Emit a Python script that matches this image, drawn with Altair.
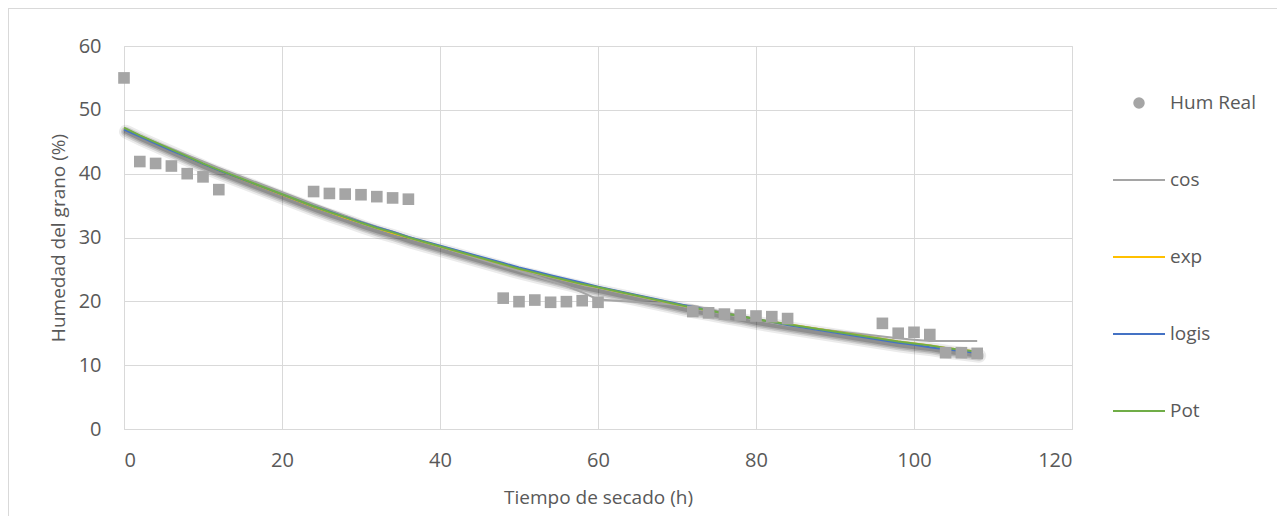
import altair as alt
import pandas as pd

# ---- data ----
tiempo = [0, 2, 4, 6, 8, 10, 12,
          24, 26, 28, 30, 32, 34, 36,
          48, 50, 52, 54, 56, 58, 60,
          72, 74, 76, 78, 80, 82, 84,
          96, 98, 100, 102, 104, 106, 108]

hum_real = [55.0, 41.9, 41.6, 41.2, 40.0, 39.5, 37.5,
            37.2, 36.9, 36.8, 36.7, 36.4, 36.2, 36.0,
            20.5, 19.95, 20.2, 19.85, 19.95, 20.1, 19.85,
            18.4, 18.2, 18.0, 17.85, 17.7, 17.6, 17.3,
            16.55, 15.0, 15.15, 14.8, 11.95, 11.95, 11.85]

fit_cos = [47.0, 45.9, 44.9, 43.9, 42.9, 41.9, 40.9,
           35.2, 34.3, 33.4, 32.5, 31.7, 30.9, 30.1,
           25.5, 24.8, 24.0, 23.2, 22.4, 21.4, 20.3,
           19.3, 18.8, 18.3, 17.8, 17.2, 16.7, 16.2,
           14.5, 14.2, 14.0, 13.8, 13.8, 13.8, 13.8]

fit_exp = [47.1, 45.9, 44.8, 43.7, 42.6, 41.5, 40.5,
           34.8, 34.0, 33.1, 32.3, 31.5, 30.7, 30.0,
           25.8, 25.1, 24.5, 23.9, 23.3, 22.7, 22.2,
           19.0, 18.6, 18.1, 17.7, 17.2, 16.8, 16.4,
           14.1, 13.7, 13.4, 13.1, 12.7, 12.4, 12.1]

fit_logis = [46.9, 45.8, 44.7, 43.6, 42.6, 41.5, 40.5,
             34.9, 34.1, 33.2, 32.4, 31.6, 30.9, 30.1,
             26.0, 25.3, 24.7, 24.1, 23.5, 22.9, 22.3,
             19.1, 18.6, 18.1, 17.7, 17.2, 16.8, 16.3,
             13.9, 13.5, 13.2, 12.8, 12.5, 12.2, 11.9]

fit_pot = [47.2, 46.0, 44.9, 43.8, 42.7, 41.6, 40.6,
           34.9, 34.0, 33.2, 32.3, 31.5, 30.8, 30.0,
           25.8, 25.1, 24.5, 23.9, 23.3, 22.7, 22.2,
           19.0, 18.6, 18.1, 17.7, 17.2, 16.8, 16.4,
           14.1, 13.7, 13.4, 13.1, 12.7, 12.4, 12.1]

series_names = ["Hum Real", "cos", "exp", "logis", "Pot"]
series_colors = ["#a5a5a5", "#a5a5a5", "#ffc000", "#4472c4", "#70ad47"]

x_ticks = [0, 20, 40, 60, 80, 100, 120]
y_ticks = [0, 10, 20, 30, 40, 50, 60]

# ---- tables ----
pts = pd.DataFrame({"t": tiempo, "h": hum_real, "serie": "Hum Real"})
fits = pd.concat([
    pd.DataFrame({"t": tiempo, "h": vals, "serie": name, "ord": i})
    for i, (name, vals) in enumerate([("cos", fit_cos), ("exp", fit_exp),
                                      ("logis", fit_logis), ("Pot", fit_pot)])
], ignore_index=True)
shadow = pd.DataFrame({"t": tiempo, "h": fit_pot})

FONT = "Open Sans"
TXT = "#595959"
GRID = "#d9d9d9"

xscale = alt.Scale(domain=[0, 120], nice=False)
yscale = alt.Scale(domain=[0, 60], nice=False)

x_axis = alt.Axis(values=x_ticks, title="Tiempo de secado (h)", grid=True,
                  gridColor=GRID, domainColor=GRID, ticks=False,
                  labelFont=FONT, labelFontSize=20, labelColor=TXT,
                  labelPadding=21, titleFont=FONT, titleFontSize=19,
                  titleFontWeight="normal", titleColor=TXT,
                  titleX=474, titleY=68, titleBaseline="middle")
y_axis = alt.Axis(values=y_ticks, title="Humedad del grano (%)", grid=True,
                  gridColor=GRID, domain=False, ticks=False,
                  labelFont=FONT, labelFontSize=20, labelColor=TXT,
                  labelPadding=23, titleFont=FONT, titleFontSize=19,
                  titleFontWeight="normal", titleColor=TXT,
                  titleX=-66, titleY=191.5, titleBaseline="middle",
                  titleAlign="center", titleAngle=270)

IS_PT = "datum.value === 'Hum Real'"
color = alt.Color(
    "serie:N",
    scale=alt.Scale(domain=series_names, range=series_colors),
    legend=alt.Legend(
        title=None, orient="none", legendX=988, legendY=30,
        symbolType={"expr": f"{IS_PT} ? 'circle' : 'stroke'"},
        symbolSize={"expr": f"{IS_PT} ? 90 : 2704"},
        symbolFillColor={"expr": f"{IS_PT} ? '#a5a5a5' : 'transparent'"},
        symbolStrokeColor={"expr": f"{IS_PT} ? 'transparent' : scale('color', datum.value)"},
        symbolStrokeWidth=2, symbolOpacity=1,
        labelFont=FONT, labelFontSize=19, labelColor=TXT,
        labelOffset=4, rowPadding=40, padding=0,
    ),
)

base_x = alt.X("t:Q", scale=xscale, axis=x_axis)
base_y = alt.Y("h:Q", scale=yscale, axis=y_axis)

shadow_layers = [
    alt.Chart(shadow).mark_line(color="#000000", opacity=op, strokeWidth=sw,
                                xOffset=2, yOffset=4, strokeCap="round")
    .encode(x=alt.X("t:Q", scale=xscale), y=alt.Y("h:Q", scale=yscale))
    for sw, op in [(14, 0.08), (10, 0.12), (7, 0.15), (4, 0.18)]
]

lines = alt.Chart(fits).mark_line(strokeWidth=2).encode(
    x=base_x, y=base_y, color=color, order="ord:Q", detail="serie:N"
)

points = alt.Chart(pts).mark_point(shape="square", filled=True, size=135,
                                   opacity=1).encode(
    x=alt.X("t:Q", scale=xscale), y=alt.Y("h:Q", scale=yscale), color=color
)

frame = alt.Chart(alt.Data(values=[{}])).mark_rule(color=GRID, strokeWidth=1).encode(
    x=alt.value(-115.5), y=alt.value(-38), y2=alt.value(480)
)
frame_top = alt.Chart(alt.Data(values=[{}])).mark_rule(color=GRID, strokeWidth=1).encode(
    x=alt.value(-116), x2=alt.value(1160), y=alt.value(-37.5)
)

chart = alt.layer(*shadow_layers, lines, points, frame, frame_top).properties(
    width=948, height=383,
    autosize=alt.AutoSizeParams(type="none"),
    padding={"left": 116, "top": 38, "right": 205, "bottom": 87},
).configure_view(stroke=None).configure(background="white")

chart.save("out.html", embed_options={"renderer": "svg", "actions": False})
